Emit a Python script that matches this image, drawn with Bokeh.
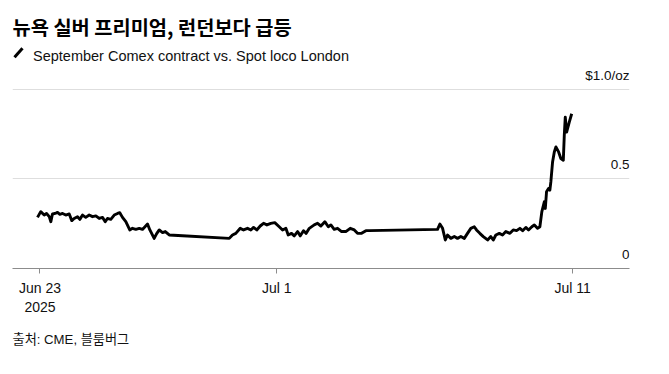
import pandas as pd
from bokeh.plotting import figure
from bokeh.models import ColumnDataSource, Label, FixedTicker, Range1d, Arrow, Title
from bokeh.embed import file_html
from bokeh.resources import INLINE

# ---- data ----
# hours since 2025-06-23 00:00
hours = [
    -2.0, 0.6, 3.4, 5.3, 7.5, 8.8, 10.1, 12.3, 14.2, 16.1,
    18.3, 20.9, 23.7, 25.8, 27.7, 30.4, 32.3, 34.5, 37.1, 39.9,
    42.6, 45.3, 48.0, 50.7, 52.9, 54.7, 57.4, 60.2, 62.9, 64.7,
    66.9, 69.6, 72.8, 75.0, 77.7, 80.5, 83.1, 87.2, 89.1, 92.6,
    94.5, 96.7, 99.4, 101.6, 104.8, 115.6,
    153.5, 156.1, 158.8, 162.4, 165.1, 168.3, 171.0, 173.2, 175.8,
    178.6, 181.3, 184.0, 187.2, 190.4, 194.0, 196.7, 199.4, 201.3, 204.0,
    206.2, 208.9, 211.1, 213.7, 215.9, 218.4, 222.4, 225.1, 227.8, 231.0,
    233.8, 235.9, 238.6, 241.3, 244.6, 248.0, 251.6, 254.9, 257.5, 260.8,
    264.3, 267.0,
    322.4, 324.3, 326.5, 328.7, 330.5, 333.2, 336.0, 338.6, 341.3, 344.1,
    346.7, 349.4, 352.2, 354.0, 356.7, 359.5, 363.0, 365.6, 367.6, 369.7,
    372.5, 375.1, 377.8, 381.1, 383.8, 386.5, 389.2, 391.4, 394.0, 396.2,
    398.9, 400.9, 403.5, 405.4, 407.0, 409.0, 409.8, 410.8, 412.4, 413.5,
    414.3, 415.7, 417.1, 418.4, 420.6, 422.4, 424.4, 425.2, 426.0, 427.1,
    429.3, 431.2,
]
# premium, $/oz
premium = [
    0.285, 0.317, 0.298, 0.307, 0.289, 0.261, 0.304, 0.307, 0.313, 0.302,
    0.307, 0.298, 0.304, 0.267, 0.279, 0.289, 0.274, 0.298, 0.285, 0.298,
    0.289, 0.293, 0.279, 0.285, 0.261, 0.279, 0.274, 0.298, 0.307, 0.311,
    0.285, 0.261, 0.215, 0.224, 0.218, 0.224, 0.218, 0.248, 0.215, 0.168,
    0.193, 0.215, 0.200, 0.206, 0.187, 0.183,
    0.168, 0.187, 0.196, 0.224, 0.215, 0.224, 0.215, 0.229, 0.215,
    0.237, 0.252, 0.243, 0.252, 0.256, 0.233, 0.215, 0.224, 0.187, 0.196,
    0.182, 0.206, 0.182, 0.211, 0.196, 0.224, 0.243, 0.252, 0.237, 0.261,
    0.233, 0.243, 0.218, 0.224, 0.206, 0.206, 0.224, 0.215, 0.196, 0.196,
    0.211, 0.211,
    0.218, 0.248, 0.224, 0.159, 0.187, 0.168, 0.178, 0.168, 0.178, 0.168,
    0.196, 0.224, 0.233, 0.215, 0.196, 0.178, 0.159, 0.178, 0.159, 0.187,
    0.196, 0.187, 0.206, 0.196, 0.215, 0.211, 0.224, 0.211, 0.229, 0.215,
    0.233, 0.243, 0.224, 0.233, 0.317, 0.372, 0.335, 0.428, 0.446, 0.437,
    0.483, 0.594, 0.650, 0.678, 0.650, 0.613, 0.604, 0.743, 0.844, 0.761,
    0.817, 0.863,
]
tick_dates = ["2025-06-23", "2025-07-01", "2025-07-11"]
tick_labels = ["Jun 23\n2025", "Jul 1", "Jul 11"]
y_ticks = [0, 0.5, 1.0]
y_tick_labels = ["0", "0.5", "$1.0/oz"]
title_text = "뉴욕 실버 프리미엄, 런던보다 급등"
subtitle_text = "September Comex contract vs. Spot loco London"
source_text = "출처: CME, 블룸버그"

# ---- build ----
LATIN = "Liberation Sans"
KR = "Noto Sans CJK KR"
MIXED = "'Liberation Sans', 'Noto Sans CJK KR', sans-serif"

base = pd.Timestamp("2025-06-23")
times = base + pd.to_timedelta(hours, unit="h")
src = ColumnDataSource(dict(t=times, v=premium))

x0 = pd.Timestamp("2025-06-22 01:42")
x1 = pd.Timestamp("2025-07-12 22:05")
x0_ms = x0.value / 1e6
x1_ms = x1.value / 1e6

W, H = 653, 358
ML, MR, MT, MB = 12, 24, 0, 89
frame_w = W - ML - MR
frame_h = H - MT - MB          # 269 px
PX_PER_UNIT = 180.0            # vertical pixels per $1.0
y_top = frame_h / PX_PER_UNIT  # leaves room above the 1.0 gridline for headings
ms_per_px = (x1_ms - x0_ms) / frame_w
y_per_px = 1.0 / PX_PER_UNIT

p = figure(width=W, height=H, x_axis_type="datetime", y_axis_location=None,
           output_backend="svg", toolbar_location=None,
           x_range=Range1d(x0_ms, x1_ms), y_range=Range1d(0, y_top),
           min_border_left=ML, min_border_right=MR,
           min_border_top=MT, min_border_bottom=MB)
p.outline_line_color = None
p.background_fill_color = "white"
p.border_fill_color = "white"

p.line("t", "v", source=src, line_width=2.9, line_color="black",
       line_join="round")

tick_ms = [int(pd.Timestamp(d).value // 10**6) for d in tick_dates]
ax = p.xaxis[0]
ax.ticker = FixedTicker(ticks=tick_ms)
ax.major_label_overrides = {ms: lab for ms, lab in zip(tick_ms, tick_labels)}
ax.axis_line_color = "#8c8c8c"
ax.axis_line_width = 1.2
ax.major_tick_line_color = "#8c8c8c"
ax.major_tick_out = 5
ax.major_tick_in = 0
ax.minor_tick_line_color = None
ax.major_label_text_font = LATIN
ax.major_label_text_font_size = "14px"
ax.major_label_text_color = "#111111"
ax.major_label_standoff = 6

p.xgrid.visible = False
p.ygrid.ticker = FixedTicker(ticks=y_ticks)
p.ygrid.grid_line_color = "#dedede"
p.ygrid.grid_line_width = 1

for val, lab in zip(y_ticks, y_tick_labels):
    p.add_layout(Label(x=x1_ms, y=val, y_offset=14, text=lab,
                       text_align="right", text_baseline="middle",
                       text_font=LATIN, text_font_size="13.5px",
                       text_color="#111111"))

# title and subtitle anchored to the 1.0 gridline at the frame's left edge
p.add_layout(Label(x=x0_ms, y=1.0, y_offset=62.5, text=title_text,
                   text_align="left", text_baseline="middle",
                   text_font=KR, text_font_size="19.8px",
                   text_font_style="bold", text_color="#000000"))
p.add_layout(Label(x=x0_ms, y=1.0, x_offset=20.5, y_offset=33, text=subtitle_text,
                   text_align="left", text_baseline="alphabetic",
                   text_font=LATIN, text_font_size="14.5px",
                   text_color="#111111"))
# legend swatch: short diagonal stroke before the subtitle
p.add_layout(Arrow(end=None, line_color="black", line_width=3,
                   x_start=x0_ms + 2 * ms_per_px, y_start=1.0 + 32 * y_per_px,
                   x_end=x0_ms + 10 * ms_per_px, y_end=1.0 + 41 * y_per_px))

# source note below the axis
p.add_layout(Title(text=source_text, align="left", standoff=24,
                   text_font=MIXED, text_font_size="13.2px",
                   text_font_style="normal", text_color="#111111"), "below")

open("out.html", "w").write(file_html(p, INLINE))
